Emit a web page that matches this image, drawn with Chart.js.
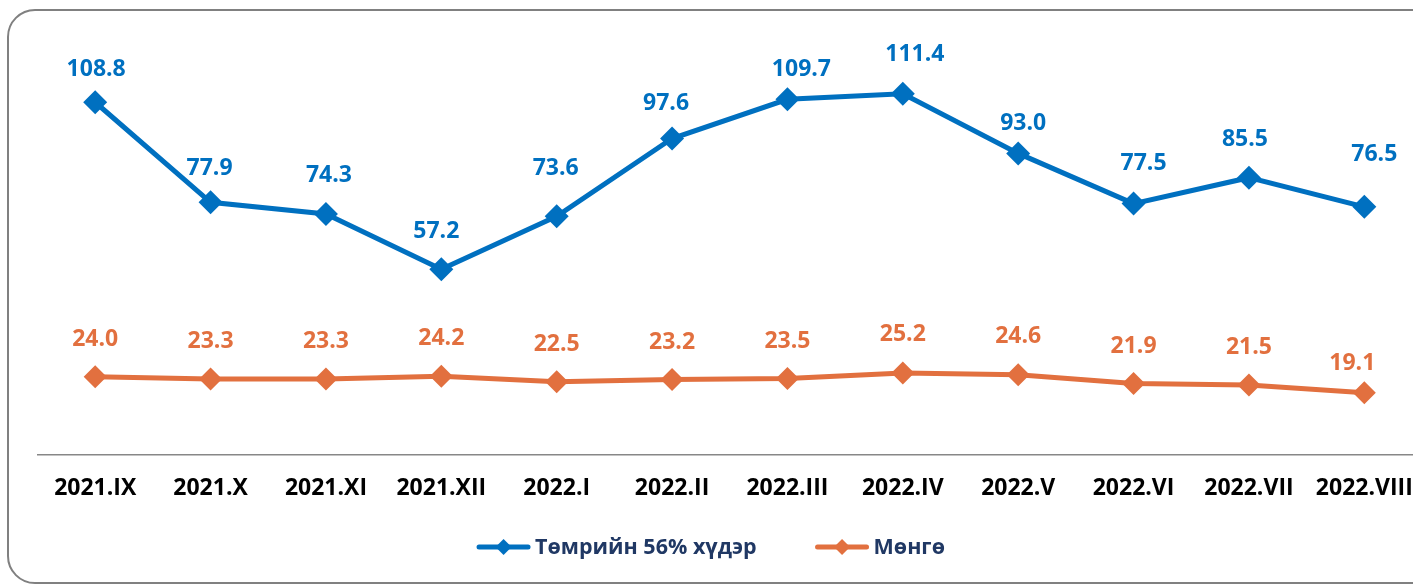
<!DOCTYPE html>
<html><head><meta charset="utf-8">
<script src="https://cdn.jsdelivr.net/npm/chart.js@4.4.1/dist/chart.umd.min.js"></script>
<style>
html,body{margin:0;padding:0;width:1413px;height:585px;overflow:hidden;background:#fff;}
#frame{position:absolute;left:7px;top:9px;width:1440px;height:575px;border:2px solid #808080;border-radius:28px;box-sizing:border-box;}
#wrap{position:absolute;left:0;top:0;width:1434px;height:585px;}
</style></head><body>
<div id="frame"></div>
<div id="wrap"><canvas id="c" width="1434" height="585" style="width:1434px;height:585px"></canvas></div>
<script>
const categories = ['2021.IX','2021.X','2021.XI','2021.XII','2022.I','2022.II','2022.III','2022.IV','2022.V','2022.VI','2022.VII','2022.VIII'];
const ironOre = [108.8, 77.9, 74.3, 57.2, 73.6, 97.6, 109.7, 111.4, 93.0, 77.5, 85.5, 76.5];
const silver = [24.0, 23.3, 23.3, 24.2, 22.5, 23.2, 23.5, 25.2, 24.6, 21.9, 21.5, 19.1];
const seriesNames = ['Төмрийн 56% хүдэр', 'Мөнгө'];

const BLUE = '#0070C0';
const ORANGE = '#E2703F';
const FONT = "'Open Sans', 'DejaVu Sans', sans-serif";

// label placement nudges (px) relative to each point, as in the original layout
const labelNudge = [
  {dx:[1,-1,3,-5,-1,-6,14,12,5,10,-4,10], dy:[34,36,40,40,49,37,32,41,32,42,40,54]},
  {dx:[0,0,0,0,0,0,0,0,0,0,0,-12], dy:[39,39,39,39,39,39,39,40,40,39,39,31]}
];

const valueLabels = {
  id:'valueLabels',
  afterDatasetsDraw(chart){
    const ctx = chart.ctx;
    ctx.save();
    ctx.font = 'bold 23px ' + FONT;
    ctx.textAlign = 'center';
    ctx.textBaseline = 'alphabetic';
    const capH = 23*0.714;
    chart.data.datasets.forEach((ds, di) => {
      const meta = chart.getDatasetMeta(di);
      ctx.fillStyle = ds.borderColor;
      meta.data.forEach((pt, i) => {
        const n = labelNudge[di];
        ctx.fillText(ds.data[i].toFixed(1), pt.x + n.dx[i], pt.y - n.dy[i] + capH/2);
      });
    });
    ctx.restore();
  }
};

const customLegend = {
  id:'customLegend',
  afterDraw(chart){
    const ctx = chart.ctx;
    ctx.save();
    ctx.font = 'bold 21.5px ' + FONT;
    const lineW = 53, textGap = 5, itemGap = 59;
    const items = chart.data.datasets.map(ds => ({label: ds.label, color: ds.borderColor, w: ctx.measureText(ds.label).width}));
    const total = items.reduce((a, it) => a + lineW + textGap + it.w, 0) + itemGap*(items.length-1);
    let x = 711 - total/2;
    const y = 547;
    items.forEach(it => {
      ctx.strokeStyle = it.color;
      ctx.lineWidth = 5;
      ctx.lineCap = 'round';
      ctx.beginPath(); ctx.moveTo(x+2, y); ctx.lineTo(x+lineW-2, y); ctx.stroke();
      const mx = x + lineW/2, r = 8;
      ctx.fillStyle = it.color;
      ctx.beginPath(); ctx.moveTo(mx, y-r); ctx.lineTo(mx+r, y); ctx.lineTo(mx, y+r); ctx.lineTo(mx-r, y); ctx.closePath(); ctx.fill();
      ctx.fillStyle = '#203864';
      ctx.textAlign = 'left';
      ctx.textBaseline = 'alphabetic';
      ctx.fillText(it.label, x + lineW + textGap, y - 1 + 21.5*0.714/2);
      x += lineW + textGap + it.w + itemGap;
    });
    ctx.restore();
  }
};

new Chart(document.getElementById('c'), {
  type:'line',
  data:{
    labels: categories,
    datasets:[
      {label: seriesNames[0], data: ironOre, borderColor: BLUE, backgroundColor: BLUE, borderWidth:5, pointStyle:'rectRot', pointRadius:12, pointBorderWidth:0, pointBackgroundColor: BLUE, tension:0, clip:false},
      {label: seriesNames[1], data: silver, borderColor: ORANGE, backgroundColor: ORANGE, borderWidth:5, pointStyle:'rectRot', pointRadius:11.5, pointBorderWidth:0, pointBackgroundColor: ORANGE, tension:0, clip:false}
    ]
  },
  options:{
    responsive:false,
    animation:false,
    devicePixelRatio:1,
    layout:{padding:{left:37.5, right:4.4, top:66, bottom:0}},
    plugins:{legend:{display:false}, tooltip:{enabled:false}},
    scales:{
      x:{
        offset:true,
        grid:{display:false, drawTicks:true, tickLength:20, offset:true},
        border:{display:true, color:'#878787', width:1.5},
        ticks:{font:{family:FONT, size:23, weight:'bold'}, color:'#000', padding:0, maxRotation:0, autoSkip:false},
        afterFit(s){ s.height = 130.5; }
      },
      y:{display:false, min:0, max:120}
    }
  },
  plugins:[valueLabels, customLegend]
});
</script>
</body></html>
